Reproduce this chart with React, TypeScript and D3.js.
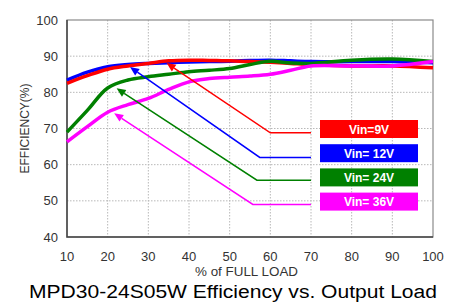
import { useEffect, useRef } from "react";
import * as d3 from "d3";

// % of full load
const loads = [10, 15, 20, 25, 30, 35, 40, 45, 50, 55, 60, 65, 70, 80, 90, 100];

// efficiency (%) per input voltage
const vin9 = [82.5, 84.6, 86.4, 87.3, 88.0, 88.7, 88.9, 88.8, 88.7, 88.5, 88.3, 88.0, 87.7, 87.3, 87.3, 86.8];
const vin12 = [83.4, 85.6, 87.1, 87.7, 88.0, 88.2, 88.4, 88.5, 88.6, 88.8, 88.9, 88.7, 88.5, 88.5, 88.5, 88.2];
const vin24 = [69.0, 75.0, 81.2, 83.4, 84.3, 85.0, 85.7, 86.1, 86.6, 87.7, 88.6, 88.1, 88.0, 88.9, 89.2, 88.5];
const vin36 = [66.3, 70.5, 74.5, 76.6, 78.3, 80.8, 82.9, 83.8, 84.2, 84.5, 85.0, 86.1, 87.3, 87.3, 87.3, 88.5];

const seriesNames = ["Vin=9V", "Vin= 12V", "Vin= 24V", "Vin= 36V"];
const seriesColors = ["#ff0000", "#0000ff", "#008000", "#ff00ff"];

// callout arrows: tip on the curve, elbow, and end of the flat run (load, %)
const arrowTips: [number, number][] = [[34.5, 88.1], [25.5, 87.0], [22.2, 81.1], [21.6, 74.2]];
const arrowElbows: [number, number][] = [[60, 68.8], [57.4, 62], [56.7, 55.7], [55.7, 49]];
const arrowEndLoad = 70;

const xTicks = [10, 20, 30, 40, 50, 60, 70, 80, 90, 100];
const yTicks = [40, 50, 60, 70, 80, 90, 100];

const width = 458;
const height = 304;
const marginLeft = 67;
const marginRight = 25;
const marginTop = 20;
const marginBottom = 67;

const App = () => {
    const svgRef = useRef<SVGSVGElement>(null);

    useEffect(() => {
        if (!svgRef.current) return;
        const svg = d3.select(svgRef.current);
        svg.selectAll("*").remove();

        const x = d3.scaleLinear([10, 100], [marginLeft, width - marginRight]);
        const y = d3.scaleLinear([40, 100], [height - marginBottom, marginTop]);
        const font = "Arial, 'Liberation Sans', sans-serif";

        // grid
        const grid = svg.append("g").attr("stroke", "#b8b8b8").attr("stroke-dasharray", "1.5,1.5");
        grid.selectAll("line.v")
            .data(xTicks.slice(1, -1))
            .join("line")
            .attr("x1", (d) => x(d))
            .attr("x2", (d) => x(d))
            .attr("y1", marginTop)
            .attr("y2", height - marginBottom);
        grid.selectAll("line.h")
            .data(yTicks.slice(1, -1))
            .join("line")
            .attr("x1", marginLeft)
            .attr("x2", width - marginRight)
            .attr("y1", (d) => y(d))
            .attr("y2", (d) => y(d));

        // frame
        svg.append("rect")
            .attr("x", marginLeft)
            .attr("y", marginTop)
            .attr("width", width - marginLeft - marginRight)
            .attr("height", height - marginTop - marginBottom)
            .attr("fill", "none")
            .attr("stroke", "#8a8a8a")
            .attr("stroke-width", 1.2);
        svg.append("path")
            .attr("d", `M${marginLeft},${marginTop}V${height - marginBottom}H${width - marginRight}`)
            .attr("fill", "none")
            .attr("stroke", "#444")
            .attr("stroke-width", 1.5);

        // tick labels
        svg.append("g")
            .selectAll("text")
            .data(yTicks)
            .join("text")
            .attr("x", marginLeft - 9)
            .attr("y", (d) => y(d) + 4.5)
            .attr("text-anchor", "end")
            .attr("font-family", font)
            .attr("font-size", 13)
            .attr("fill", "#333")
            .text((d) => d);
        svg.append("g")
            .selectAll("text")
            .data(xTicks)
            .join("text")
            .attr("x", (d) => x(d))
            .attr("y", height - marginBottom + 24)
            .attr("text-anchor", "middle")
            .attr("font-family", font)
            .attr("font-size", 13)
            .attr("fill", "#333")
            .text((d) => d);

        svg.append("text")
            .attr("x", 246.5)
            .attr("y", 276)
            .attr("text-anchor", "middle")
            .attr("font-family", font)
            .attr("font-size", 12.5)
            .attr("fill", "#333")
            .attr("textLength", 103)
            .attr("lengthAdjust", "spacingAndGlyphs")
            .text("% of FULL LOAD");

        svg.append("text")
            .attr("transform", `translate(29,${(marginTop + height - marginBottom) / 2}) rotate(-90)`)
            .attr("text-anchor", "middle")
            .attr("font-family", font)
            .attr("font-size", 12)
            .attr("fill", "#333")
            .text("EFFICIENCY(%)");

        svg.append("text")
            .attr("x", 233)
            .attr("y", 297.5)
            .attr("text-anchor", "middle")
            .attr("font-family", font)
            .attr("font-size", 18)
            .attr("fill", "#000")
            .attr("textLength", 408)
            .attr("lengthAdjust", "spacingAndGlyphs")
            .text("MPD30-24S05W Efficiency vs. Output Load");

        // curves
        const line = d3
            .line<number>()
            .x((_, i) => x(loads[i]))
            .y((d) => y(d))
            .curve(d3.curveCatmullRom.alpha(0.5));

        const series = [vin9, vin12, vin24, vin36];
        const drawOrder = [1, 0, 2, 3];
        drawOrder.forEach((i) => {
            svg.append("path")
                .attr("d", line(series[i]))
                .attr("fill", "none")
                .attr("stroke", seriesColors[i])
                .attr("stroke-width", 3.5)
                .attr("stroke-linejoin", "round");
        });

        // callouts
        seriesColors.forEach((c, i) => {
            const [tx, ty] = arrowTips[i];
            const [ex, ey] = arrowElbows[i];
            const p0: [number, number] = [x(arrowEndLoad), y(ey)];
            const p1: [number, number] = [x(ex), y(ey)];
            const p2: [number, number] = [x(tx), y(ty)];
            const ang = Math.atan2(p2[1] - p1[1], p2[0] - p1[0]);
            const len = 9;
            const half = 4;
            const bx = p2[0] - Math.cos(ang) * len;
            const by = p2[1] - Math.sin(ang) * len;
            svg.append("path")
                .attr("d", `M${p0[0]},${p0[1]}L${p1[0]},${p1[1]}L${bx},${by}`)
                .attr("fill", "none")
                .attr("stroke", c)
                .attr("stroke-width", 1.5);
            const nx = -Math.sin(ang) * half;
            const ny = Math.cos(ang) * half;
            svg.append("path")
                .attr("d", `M${p2[0]},${p2[1]}L${bx + nx},${by + ny}L${bx - nx},${by - ny}Z`)
                .attr("fill", c);
        });

        // legend boxes
        const legend = svg.append("g");
        seriesNames.forEach((name, i) => {
            const top = 120 + i * 24.2;
            legend.append("rect")
                .attr("x", 320)
                .attr("y", top)
                .attr("width", 98)
                .attr("height", 18)
                .attr("fill", seriesColors[i]);
            legend.append("text")
                .attr("x", 369)
                .attr("y", top + 13.5)
                .attr("text-anchor", "middle")
                .attr("font-family", font)
                .attr("font-weight", "bold")
                .attr("font-size", 12)
                .attr("fill", "#fff")
                .text(name);
        });
    }, []);

    return (
        <svg
            ref={svgRef}
            width={width}
            height={height}
            style={{ position: "absolute", left: 0, top: 0, background: "#fff" }}
        />
    );
};

export default App;
